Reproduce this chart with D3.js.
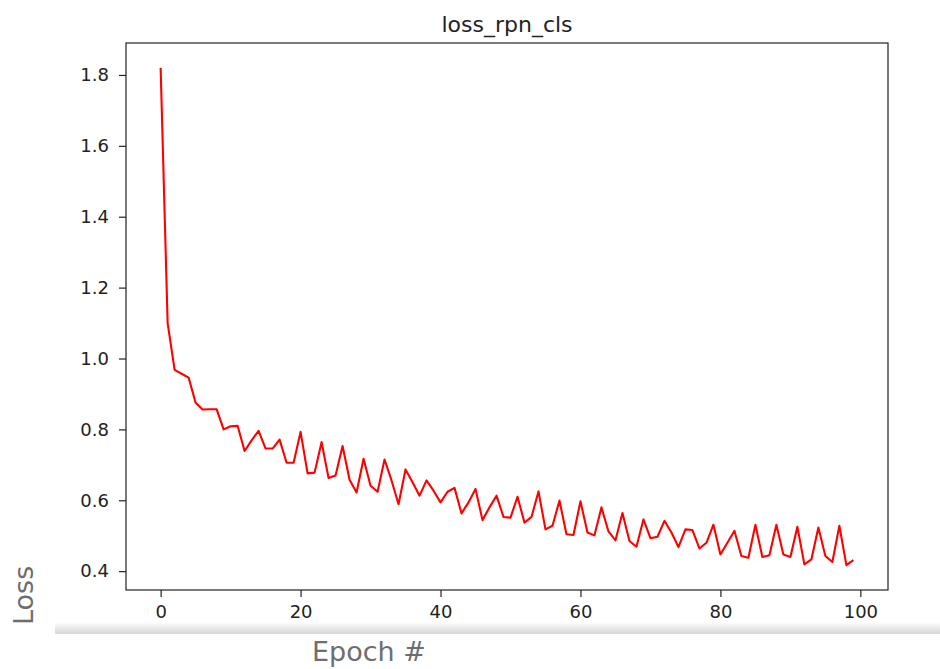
<!DOCTYPE html>
<html>
<head>
<meta charset="utf-8">
<script src="https://cdn.jsdelivr.net/npm/d3@7"></script>
<style>
  body { margin: 0; background: #fff; }
  svg { display: block; font-family: "DejaVu Sans", sans-serif; }
</style>
</head>
<body>
<div class="graph_loss"></div>
<script>
// loss values per epoch
const epochs = d3.range(0, 100);
const lossValues = [
  1.82, 1.10, 0.968, 0.957, 0.946, 0.875, 0.856, 0.857, 0.857, 0.800,
  0.809, 0.810, 0.739, 0.769, 0.796, 0.746, 0.746, 0.771, 0.706, 0.706,
  0.793, 0.676, 0.678, 0.764, 0.663, 0.670, 0.753, 0.658, 0.622, 0.717,
  0.641, 0.624, 0.715, 0.656, 0.589, 0.687, 0.651, 0.613, 0.656, 0.627,
  0.594, 0.624, 0.635, 0.563, 0.594, 0.632, 0.544, 0.580, 0.613, 0.553,
  0.551, 0.610, 0.537, 0.553, 0.625, 0.518, 0.528, 0.599, 0.504, 0.502,
  0.597, 0.509, 0.501, 0.580, 0.512, 0.487, 0.564, 0.485, 0.469, 0.546,
  0.493, 0.497, 0.542, 0.509, 0.468, 0.518, 0.516, 0.464, 0.480, 0.531,
  0.447, 0.480, 0.514, 0.443, 0.438, 0.531, 0.440, 0.445, 0.531, 0.447,
  0.440, 0.525, 0.419, 0.433, 0.523, 0.443, 0.426, 0.528, 0.417, 0.431
];
const xTicks = [0, 20, 40, 60, 80, 100];
const yTicks = [0.4, 0.6, 0.8, 1.0, 1.2, 1.4, 1.6, 1.8];

const width = 940;
const height = 669;
const margin = {top: 43, bottom: 79, left: 126, right: 52};

const svg = d3.select(".graph_loss").append("svg")
  .attr("width", width).attr("height", height);

// matplotlib style 5% padding around the data
const xExt = d3.extent(epochs);
const xPad = (xExt[1] - xExt[0]) * 0.05;
const yExt = d3.extent(lossValues);
const yPad = (yExt[1] - yExt[0]) * 0.05;

const x = d3.scaleLinear()
  .domain([xExt[0] - xPad, xExt[1] + xPad])
  .range([margin.left, width - margin.right]);
const y = d3.scaleLinear()
  .domain([yExt[0] - yPad, yExt[1] + yPad])
  .range([height - margin.bottom, margin.top]);

// grey strip near the bottom
const defs = svg.append("defs");
const grad = defs.append("linearGradient").attr("id", "strip")
  .attr("x1", 0).attr("y1", 0).attr("x2", 0).attr("y2", 1);
grad.append("stop").attr("offset", "0%").attr("stop-color", "#ffffff");
grad.append("stop").attr("offset", "100%").attr("stop-color", "#d6d6d6");
svg.append("rect")
  .attr("x", 55).attr("y", 622).attr("width", width - 55).attr("height", 12)
  .attr("fill", "url(#strip)");

// line
const lineGenerator = d3.line()
  .x((d, i) => x(epochs[i]))
  .y(d => y(d));
svg.append("path")
  .datum(lossValues)
  .attr("d", lineGenerator)
  .attr("fill", "none")
  .attr("stroke", "#ff0000")
  .attr("stroke-width", 2.1)
  .attr("stroke-linejoin", "round");

// axes
const xAxis = d3.axisBottom(x).tickValues(xTicks).tickSize(7).tickPadding(8).tickFormat(d3.format("d"));
const gx = svg.append("g").attr("transform", `translate(0, ${height - margin.bottom})`).call(xAxis);
const yAxis = d3.axisLeft(y).tickValues(yTicks).tickSize(7).tickPadding(10).tickFormat(d3.format(".1f"));
const gy = svg.append("g").attr("transform", `translate(${margin.left}, 0)`).call(yAxis);
[gx, gy].forEach(g => {
  g.select(".domain").remove();
  g.selectAll(".tick line").attr("stroke", "#222").attr("stroke-width", 1.2);
  g.selectAll(".tick text").attr("font-size", 18).attr("fill", "#222")
    .attr("font-family", "DejaVu Sans, sans-serif");
});

// frame
svg.append("rect")
  .attr("x", margin.left).attr("y", margin.top)
  .attr("width", width - margin.left - margin.right)
  .attr("height", height - margin.top - margin.bottom)
  .attr("fill", "none").attr("stroke", "#222").attr("stroke-width", 1.2);

// title
svg.append("text")
  .attr("x", (margin.left + width - margin.right) / 2)
  .attr("y", 32)
  .attr("text-anchor", "middle")
  .attr("font-size", 22)
  .attr("fill", "#222")
  .text("loss_rpn_cls");

// axis labels
svg.append("text")
  .attr("x", 312).attr("y", 661)
  .attr("font-size", 27)
  .attr("fill", "#6e6e6e")
  .text("Epoch #");

svg.append("text")
  .attr("transform", "translate(33, 625) rotate(-90)")
  .attr("font-size", 27)
  .attr("fill", "#6e6e6e")
  .text("Loss");
</script>
</body>
</html>
